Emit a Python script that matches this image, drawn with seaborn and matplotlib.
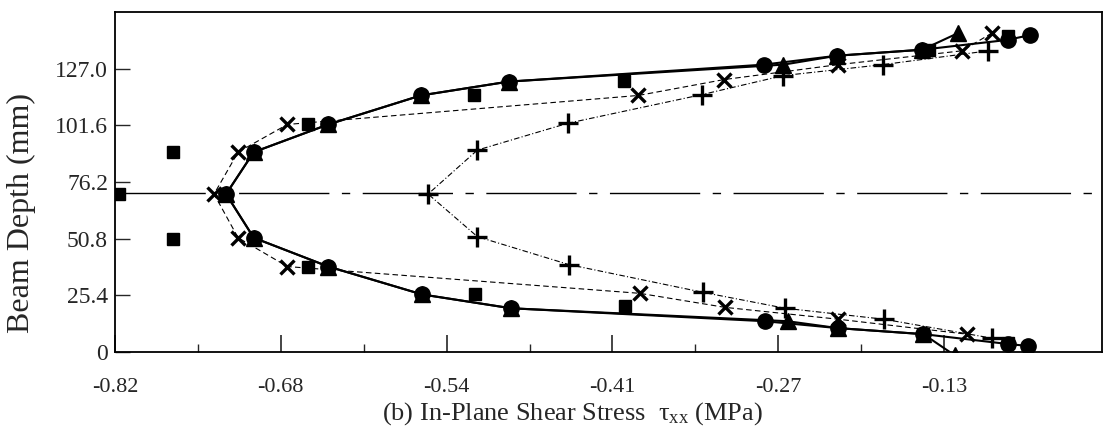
import numpy as np
import pandas as pd
import matplotlib
matplotlib.use("Agg")
import matplotlib.pyplot as plt
import seaborn as sns

# ---- data (MPa, mm) ----
circle_x = [-0.066, -0.085, -0.156, -0.227, -0.288, -0.500, -0.573, -0.650, -0.712, -0.735,
            -0.712, -0.650, -0.572, -0.498, -0.287, -0.226, -0.155, -0.085, -0.068]
circle_y = [142.1, 139.9, 135.5, 132.8, 128.8, 121.2, 115.0, 102.0, 89.6, 70.8,
            51.2, 38.3, 25.8, 19.6, 13.8, 10.7, 8.0, 3.6, 2.7]

tri_x = [-0.126, -0.156, -0.227, -0.2715, -0.500, -0.573, -0.650, -0.712, -0.735,
         -0.712, -0.650, -0.572, -0.498, -0.268, -0.226, -0.155, -0.129]
tri_y = [143.0, 135.5, 132.8, 128.8, 121.2, 115.0, 102.0, 89.6, 70.8,
         51.2, 38.3, 25.8, 19.6, 13.8, 10.7, 8.0, -1.5]

x_x = [-0.098, -0.123, -0.226, -0.321, -0.392, -0.684, -0.725, -0.745,
       -0.725, -0.684, -0.391, -0.320, -0.226, -0.119]
x_y = [143.0, 135.0, 128.8, 122.1, 115.0, 102.0, 89.6, 70.8,
       51.2, 38.3, 26.3, 20.0, 14.7, 8.0]

plus_x = [-0.101, -0.189, -0.2715, -0.339, -0.451, -0.526, -0.567,
          -0.526, -0.450, -0.338, -0.270, -0.188, -0.098]
plus_y = [135.0, 128.8, 123.9, 115.4, 102.5, 90.5, 70.8,
          51.7, 39.2, 26.7, 19.6, 14.7, 6.2]

sq_x = [-0.085, -0.150, -0.404, -0.529, -0.667, -0.779, -0.824,
        -0.779, -0.667, -0.528, -0.403, -0.155, -0.085]
sq_y = [141.7, 135.5, 121.6, 115.4, 102.0, 89.6, 70.8,
        50.8, 38.3, 25.8, 20.5, 8.0, 4.0]

mid_depth = 71.3
xtick_vals = [-0.8274, -0.6895, -0.5516, -0.4137, -0.2758, -0.1379]
xtick_labels = ["-0.82", "-0.68", "-0.54", "-0.41", "-0.27", "-0.13"]
ytick_vals = [0, 25.4, 50.8, 76.2, 101.6, 127.0]
ytick_labels = ["0", "25.4", "50.8", "76.2", "101.6", "127.0"]

sns.set_theme(style="white")
plt.rcParams["font.family"] = ["Liberation Serif", "DejaVu Serif"]
plt.rcParams["mathtext.fontset"] = "custom"
plt.rcParams["mathtext.rm"] = "Liberation Serif"
plt.rcParams["mathtext.it"] = "Liberation Serif:italic"

fig = plt.figure(figsize=(11.03, 4.34), dpi=100)
ax = fig.add_axes([115 / 1103, 1 - 352 / 434, (1102 - 115) / 1103, (352 - 12) / 434])

ax.axhline(mid_depth, color="black", lw=1.0, dashes=(65, 9, 6, 9), zorder=1)

def draw(xs, ys, marker, ms, lw, mew=1.0, dashes=None, line=True):
    df = pd.DataFrame({"x": xs, "y": ys})
    kw = dict(data=df, x="x", y="y", sort=False, estimator=None, ax=ax,
              color="black", marker=marker, markersize=ms, markeredgewidth=mew,
              markeredgecolor="black", markerfacecolor="black")
    if line:
        sns.lineplot(**kw, lw=lw)
        if dashes is not None:
            ax.lines[-1].set_dashes(dashes)
    else:
        sns.lineplot(**kw, lw=0)

draw(plus_x, plus_y, "+", 14, 0.8, mew=2.4, dashes=(5, 2, 1, 2))
draw(x_x, x_y, "x", 10.5, 0.8, mew=2.4, dashes=(5, 3))
draw(sq_x, sq_y, "s", 9, 0, line=False)
draw(tri_x, tri_y, "^", 11, 1.5)
draw(circle_x, circle_y, "o", 11, 1.5)

ax.set_xlim(-0.8266, -0.0065)
ax.set_ylim(0, 152.4)
ax.set_xticks(xtick_vals)
ax.set_xticklabels(xtick_labels)
ax.set_xticks([v + 0.06895 for v in xtick_vals], minor=True)
ax.set_yticks(ytick_vals)
ax.set_yticklabels(ytick_labels)

ax.tick_params(axis="x", which="major", direction="in", length=12, width=1.2,
               labelsize=16, pad=19, bottom=True)
ax.tick_params(axis="x", which="minor", direction="in", length=6, width=1.0, bottom=True)
ax.tick_params(axis="y", which="major", direction="in", length=11, width=1.0,
               labelsize=17, pad=5, left=True)

for s in ax.spines.values():
    s.set_color("black")
    s.set_linewidth(1.3)

ax.set_xlabel("(b) In-Plane Shear Stress  τ$_{\\mathrm{xx}}$ (MPa)", fontsize=19)
ax.xaxis.set_label_coords(0.463, -0.142)
ax.set_ylabel("Beam Depth (mm)", fontsize=23)
ax.yaxis.set_label_coords(-0.080, 0.41)

fig.savefig("out.png", dpi=100)
